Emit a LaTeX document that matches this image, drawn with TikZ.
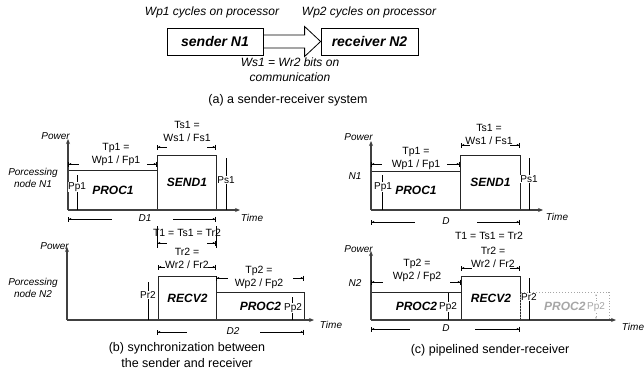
\documentclass[tikz,border=0pt]{standalone}
\usepackage{fontspec}
\setmainfont{Liberation Sans}
\usetikzlibrary{arrows.meta,calc}

\begin{document}
\begin{tikzpicture}[x=1pt, y=-1pt,
	box/.style={draw=black!85, line width=0.9pt, anchor=south west, inner sep=0pt, font=\fontsize{12}{14}\selectfont\bfseries\itshape},
	unit/.style={draw=black, line width=0.8pt, minimum height=27pt, inner sep=0pt, font=\fontsize{14}{16}\selectfont\bfseries\itshape},
	axisline/.style={draw=black!75, line width=1.7pt, -{Stealth[length=5pt,width=4pt]}},
	note/.style={font=\fontsize{12}{15}\selectfont\itshape, align=center, inner sep=0pt},
	axlbl/.style={font=\fontsize{10}{12}\selectfont\itshape, align=center, inner sep=0pt},
	eq/.style={font=\fontsize{10.5}{13}\selectfont, align=center, inner sep=0pt},
	lvl/.style={font=\fontsize{10}{12}\selectfont, fill=white, inner sep=0.5pt},
	lvltick/.style={draw=black, line width=0.6pt},
	dimL/.style={draw=black, line width=0.6pt, {Bar[width=5pt]Latex[length=2.5pt,width=2pt]}-},
	dimR/.style={draw=black, line width=0.6pt, -{Latex[length=2.5pt,width=2pt]Bar[width=5pt]}},
	capt/.style={font=\fontsize{12.5}{16}\selectfont, align=center, inner sep=0pt},
	ghost/.style={draw=black!35, dotted, line width=0.6pt}
]
	\useasboundingbox (0,0) rectangle (644,375);

	% (a) sender and receiver
	\node[unit, minimum width=96pt] (snd) at (215,41.5) {sender N1};
	\node[unit, minimum width=97pt] (rcv) at (369.5,41.5) {receiver N2};
	\node[note] (wpa) at (212,12) {Wp1 cycles on processor};
	\node[note] (wpb) at (369,12) {Wp2 cycles on processor};
	\draw[line width=0.8pt] ($(snd.east)+(0,-6.5)$) -- ($(rcv.west)+(-16,-6.5)$) -- ($(rcv.west)+(-16,-15)$)
		-- (rcv.west) -- ($(rcv.west)+(-16,15)$) -- ($(rcv.west)+(-16,6.5)$) -- ($(snd.east)+(0,6.5)$);
	\node[note] (bits) at (290,70) {Ws1 = Wr2 bits on\\communication};
	\node[capt] (capa) at (288,100) {(a) a sender-receiver system};

	% (b) node N1
	\node[box, minimum width=89pt, minimum height=39pt] (procb) at (68,210) {PROC1};
	\node[box, minimum width=59pt, minimum height=54pt] (sendb) at (157,210) {SEND1};
	\coordinate (ob1) at (68,210);
	\draw[axisline] (ob1) -- ++(0,-71);
	\draw[axisline] (ob1) -- ++(172,0);
	\node[axlbl, anchor=east] (powb1) at (70,136) {Power};
	\node[axlbl] (nodeb1) at (33,178) {Porcessing\\node N1};
	\node[axlbl] (timeb1) at (252,218) {Time};
	\draw[lvltick] (77,175) -- (77,210);
	\node[lvl] (ppb1) at (77,187) {Pp1};
	\draw[lvltick] (226,158) -- (226,210);
	\node[lvl] (psb1) at (226,180) {Ps1};
	\node[eq] (tpb1) at (116,154) {Tp1 =\\Wp1 / Fp1};
	\draw[dimL] (68,164) -- (79,164);
	\draw[dimR] (147,164) -- (157,164);
	\node[eq] (tsb1) at (187,131) {Ts1 =\\Ws1 / Fs1};
	\draw[dimL] (157,147) -- (167,147);
	\draw[dimR] (207,147) -- (216,147);
	\node[axlbl] (db1) at (145,218) {D1};
	\draw[dimL] (68,219) -- (112,219);
	\draw[dimR] (173,219) -- (216,219);
	\draw[lvltick] (157,226) -- (157,248);
	\draw[lvltick] (216,226) -- (216,248);
	\node[eq] (tb) at (187,233) {T1 = Ts1 = Tr2};
	\draw[dimL] (157,243) -- (167,243);
	\draw[dimR] (207,243) -- (216,243);
	\node[eq] (trb) at (187,258) {Tr2 =\\Wr2 / Fr2};
	\draw[dimL] (158,267) -- (165,267);
	\draw[dimR] (208,267) -- (216,267);

	% (b) node N2
	\node[box, minimum width=58pt, minimum height=43pt] (recvb) at (158,320) {RECV2};
	\node[box, minimum width=88pt, minimum height=27pt] (procb2) at (216,320) {PROC2};
	\coordinate (ob2) at (67,320);
	\draw[axisline] (ob2) -- ++(0,-73);
	\draw[axisline] (ob2) -- ++(247,0);
	\node[axlbl, anchor=east] (powb2) at (69,246) {Power};
	\node[axlbl] (nodeb2) at (33,288) {Porcessing\\node N2};
	\node[axlbl] (timeb2) at (331,325) {Time};
	\draw[lvltick] (148,282) -- (148,320);
	\node[lvl] (prb) at (148,295) {Pr2};
	\draw[lvltick] (292,297) -- (292,320);
	\node[lvl] (ppb2) at (293,308) {Pp2};
	\node[eq] (tpb2) at (259,277) {Tp2 =\\Wp2 / Fp2};
	\draw[dimL] (216,278) -- (228,278);
	\draw[dimR] (293,278) -- (304,278);
	\node[axlbl] (db2) at (233,331) {D2};
	\draw[dimL] (157,332) -- (187,332);
	\draw[dimR] (260,332) -- (304,332);
	\node[capt] (capb) at (187,355) {(b) synchronization between\\the sender and receiver};

	% (c) node N1
	\node[box, minimum width=89pt, minimum height=38pt] (procc) at (371,210) {PROC1};
	\node[box, minimum width=60pt, minimum height=54pt] (sendc) at (460,210) {SEND1};
	\coordinate (oc1) at (371,210);
	\draw[axisline] (oc1) -- ++(0,-69);
	\draw[axisline] (oc1) -- ++(172,0);
	\node[axlbl, anchor=east] (powc1) at (373,137) {Power};
	\node[axlbl] (nodec1) at (355,176) {N1};
	\node[axlbl] (timec1) at (557,217) {Time};
	\draw[lvltick] (382,175) -- (382,210);
	\node[lvl] (ppc1) at (383,187) {Pp1};
	\draw[lvltick] (529,158) -- (529,210);
	\node[lvl] (psc1) at (529,179) {Ps1};
	\node[eq] (tpc1) at (416,158) {Tp1 =\\Wp1 / Fp1};
	\draw[dimL] (371,164) -- (382,164);
	\draw[dimR] (447,164) -- (460,164);
	\node[eq] (tsc1) at (489,134.5) {Ts1 =\\Ws1 / Fs1};
	\draw[dimL] (461,145) -- (470,145);
	\draw[dimR] (510,145) -- (520,145);
	\node[axlbl] (dc1) at (446,221) {D};
	\draw[dimL] (371,222) -- (415,222);
	\draw[dimR] (477,222) -- (520,222);
	\node[eq] (tc) at (489,236) {T1 = Ts1 = Tr2};

	% (c) node N2
	\node[box, minimum width=90pt, minimum height=27pt] (procc2) at (371,320) {PROC2};
	\node[box, minimum width=59pt, minimum height=43pt] (recvc) at (461,320) {RECV2};
	\node[box, ghost, text=black!35, minimum width=89pt, minimum height=27pt] (procg) at (520,320) {PROC2};
	\coordinate (oc2) at (371,320);
	\draw[axisline] (oc2) -- ++(0,-69);
	\draw[axisline] (oc2) -- ++(245,0);
	\node[axlbl, anchor=east] (powc2) at (373,249) {Power};
	\node[axlbl] (nodec2) at (355,283) {N2};
	\node[axlbl] (timec2) at (633,327) {Time};
	\draw[lvltick] (448,293) -- (448,320);
	\node[lvl] (ppc2) at (448,307) {Pp2};
	\draw[lvltick] (529,278) -- (529,320);
	\node[lvl] (prc) at (529,297) {Pr2};
	\draw[ghost, {Stealth[length=2pt]}-{Stealth[length=2pt]}] (596,294) -- (596,319);
	\node[lvl, text=black!35] (ppg) at (596,307) {Pp2};
	\node[eq] (tpc2) at (417,270) {Tp2 =\\Wp2 / Fp2};
	\draw[dimL] (371,282) -- (383,282);
	\draw[dimR] (450,282) -- (461,282);
	\node[eq] (trc) at (493,257.5) {Tr2 =\\Wr2 / Fr2};
	\draw[dimL] (461,268) -- (472,268);
	\draw[dimR] (510,268) -- (520,268);
	\node[axlbl] (dc2) at (446,328) {D};
	\draw[dimL] (371,329) -- (410,329);
	\draw[dimR] (475,329) -- (520,329);
	\node[capt] (capc) at (490,350) {(c) pipelined sender-receiver};

\end{tikzpicture}
\end{document}
